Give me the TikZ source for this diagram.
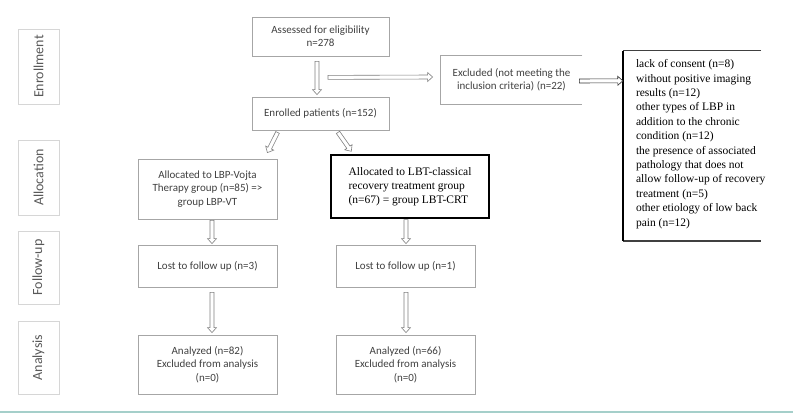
\documentclass[tikz,border=0pt]{standalone}
\usepackage{fontspec}
\setmainfont{Carlito}
\newfontfamily\tms{Liberation Serif}
\usetikzlibrary{calc}
\definecolor{boxgray}{HTML}{A6A6A6}
\definecolor{txtgray}{HTML}{404040}
\definecolor{sidegray}{HTML}{D6D6D6}
\definecolor{sidetext}{HTML}{595959}
\definecolor{arrgray}{HTML}{7F7F7F}
\definecolor{lineteal}{HTML}{A5CFCA}
\newcommand\blockarrow[3][]{%
  \draw[barrowstyle,#1] let \p1=($(#3)-(#2)$), \n1={atan2(\y1,\x1)}, \n2={veclen(\x1,\y1)} in
  [shift={(#2)}, rotate=\n1] (0,-2) -- ({\n2-5},-2) -- ({\n2-5},-4.5) -- (\n2,0) -- ({\n2-5},4.5) -- ({\n2-5},2) -- (0,2) -- cycle;}
\begin{document}
\begin{tikzpicture}[x=1pt,y=-1pt,
  box/.style={draw=boxgray, line width=0.8pt, text=txtgray, inner sep=0pt, align=center,
    font=\fontsize{11}{13.3}\selectfont, minimum width=139, minimum height=42},
  tbox/.style={draw=black, line width=1.4pt, text=black, inner sep=0pt, align=left,
    font=\tms\fontsize{11.5}{14}\selectfont},
  sidebox/.style={draw=sidegray, line width=0.8pt, text=sidetext, rotate=90, inner sep=0pt,
    minimum width=75, minimum height=41, font=\fontsize{14}{16}\selectfont},
  barrowstyle/.style={draw=arrgray, line width=0.6pt, fill=white, line join=miter}]
\useasboundingbox (0,0) rectangle (793,414);
% side labels
\node[sidebox] (senr) at (38.5,66.5) {Enrollment};
\node[sidebox] (salloc) at (38.5,177.5) {Allocation};
\node[sidebox, minimum width=73] (sfol) at (38.5,267.5) {Follow-up};
\node[sidebox, minimum width=73] (sana) at (38.5,357.5) {Analysis};
% main boxes
\node[box, minimum width=137, minimum height=39] (assess) at (320.5,36.5) {Assessed for eligibility\\n=278};
\node[box, minimum width=137, minimum height=33] (enrol) at (320.5,113.5) {Enrolled patients (n=152)};
\node[box, draw=none, minimum width=141, minimum height=48] (excl) at (511.5,80) {Excluded (not meeting the\\inclusion criteria) (n=22)};
\draw[boxgray, line width=0.8pt] (excl.north east) -- (excl.north west) -- (excl.south west) -- (excl.south east);
\node[minimum width=138, minimum height=190, inner sep=0pt] (reasons) at (692,146) {};
\draw[black!75, line width=1.4pt] (reasons.north east) -- (reasons.north west);
\draw[black!75, line width=1.4pt] (reasons.south west) -- (reasons.south east);
\draw[black, line width=1.6pt] (reasons.north west) -- (reasons.south west);
\node[anchor=west, inner sep=0pt, align=left, font=\tms\fontsize{11.5}{14.4}\selectfont] (rtext) at ($(reasons.west)+(13,-2)$)
 {lack of consent (n=8)\\without positive imaging\\results (n=12)\\other types of LBP in\\addition to the chronic\\condition (n=12)\\the presence of associated\\pathology that does not\\allow follow-up of recovery\\treatment (n=5)\\other etiology of low back\\pain (n=12)};
\node[box, minimum height=60] (allocL) at (207.5,189) {Allocated to LBP-Vojta\\Therapy group (n=85) =>\\group LBP-VT};
\node[tbox, minimum width=158, minimum height=63] (allocR) at (410,186.5) {Allocated to LBT-classical\\recovery treatment group\\(n=67) = group LBT-CRT};
\node[box] (lostL) at (207.5,266) {Lost to follow up (n=3)};
\node[box] (lostR) at (405.5,266) {Lost to follow up (n=1)};
\node[box, minimum height=59] (anaL) at (207.5,364.5) {Analyzed (n=82)\\Excluded from analysis\\(n=0)};
\node[box, minimum height=59] (anaR) at (405.5,364.5) {Analyzed (n=66)\\Excluded from analysis\\(n=0)};
% arrow end points
\coordinate (a1) at ($(assess.south)+(-3.5,5)$);
\coordinate (a2) at ($(enrol.north)+(-3.5,-2)$);
\coordinate (b1) at ($(assess.south)+(7.5,21)$);
\coordinate (b2) at ($(excl.west)+(-8,-3)$);
\coordinate (c1) at ($(excl.east)+(-3,1)$);
\coordinate (c2) at ($(reasons.north west)+(0,30)$);
\coordinate (d1) at ($(enrol.south west)+(26,2)$);
\coordinate (d2) at ($(allocL.north east)+(-10,-6)$);
\coordinate (e1) at ($(enrol.south)+(17.5,2)$);
\coordinate (e2) at ($(allocR.north west)+(21,-3)$);
\coordinate (f1) at ($(allocL.south)+(4.5,1)$);
\coordinate (f2) at ($(lostL.north)+(4.5,-1)$);
\coordinate (g1) at ($(lostL.south)+(4.5,5)$);
\coordinate (g2) at ($(anaL.north)+(4.5,-2)$);
\coordinate (h1) at ($(allocR.south)+(-4,1)$);
\coordinate (h2) at ($(lostR.north)+(0.5,-1)$);
\coordinate (i1) at ($(lostR.south)+(0.5,5)$);
\coordinate (i2) at ($(anaR.north)+(0.5,-2)$);
\blockarrow{a1}{a2}
\blockarrow{b1}{b2}
\blockarrow[draw=black!80]{c1}{c2}
\blockarrow{d1}{d2}
\blockarrow{e1}{e2}
\blockarrow{f1}{f2}
\blockarrow{g1}{g2}
\blockarrow{h1}{h2}
\blockarrow{i1}{i2}
% bottom rule
\coordinate (r1) at (0,412);
\coordinate (r2) at (793,412);
\draw[lineteal, line width=1.5pt] (r1) -- (r2);
\end{tikzpicture}
\end{document}
